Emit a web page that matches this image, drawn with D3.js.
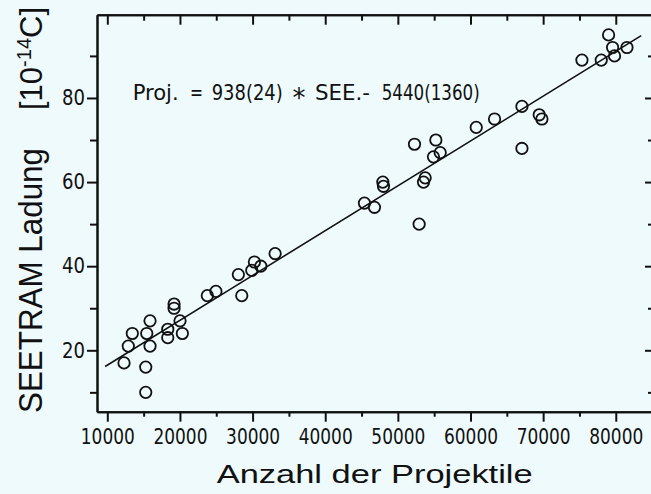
<!DOCTYPE html>
<html>
<head>
<meta charset="utf-8">
<script src="https://cdn.jsdelivr.net/npm/d3@7"></script>
<style>
  html, body { margin: 0; padding: 0; background: #eefafc; }
  svg { display: block; }
  text { fill: #111; }
</style>
</head>
<body>
<svg id="chart" width="651" height="494"></svg>
<script>
// ---- data ----
const projektile = [12300, 12890, 13440, 15290, 15290, 15430, 15880, 15880, 18320, 18320,
  19190, 19190, 20010, 20330, 23770, 24950, 28040, 28510, 29890, 30250,
  31130, 33100, 45400, 46780, 47930, 48020, 52930, 53530, 53760, 52290,
  55230, 54900, 55830, 60790, 63310, 67080, 67080, 69460, 69830, 75340,
  78000, 79010, 79560, 79830, 81540];
const ladung = [17, 21, 24, 16, 10, 24, 27, 21, 25, 23,
  31, 30, 27, 24, 33, 34, 38, 33, 39, 41,
  40, 43, 55, 54, 60, 59, 50, 60, 61, 69,
  70, 66, 67, 73, 75, 78, 68, 76, 75, 89,
  89, 95, 92, 90, 92];
const fitSlope = 938;       // Proj = 938 * SEE - 5440
const fitIntercept = -5440;
const fitRange = [9700, 83500];
const xMajorTicks = [10000, 20000, 30000, 40000, 50000, 60000, 70000, 80000];
const xMinorTicks = [15000, 25000, 35000, 45000, 55000, 65000, 75000, 85000];
const yMajorTicks = [20, 40, 60, 80];
const yMinorTicks = [10, 30, 50, 70, 90];
const equationParts = ["Proj.", "=", "938(24)", "*", "SEE.-", "5440(1360)"];
const xTitle = "Anzahl der Projektile";
const yTitle = "SEETRAM Ladung";
const yUnit = ["[10", "-14", "C]"];

// ---- layout ----
const L = 97, R = 655, T = 14.7, B = 411.7;
const svg = d3.select("#chart");
svg.append("rect").attr("width", 651).attr("height", 494).attr("fill", "#eefafc");

const x = d3.scaleLinear().domain([8580, 85400]).range([L, R]);
const y = d3.scaleLinear().domain([5.4, 99.8]).range([B, T]);

const numFont = "'Liberation Sans Narrow', 'DejaVu Sans Condensed', 'Liberation Sans', sans-serif";
const txtFont = "'Liberation Sans', 'DejaVu Sans', sans-serif";

function styleAxis(g) {
  g.select(".domain").attr("stroke", "#111").attr("stroke-width", 2);
  g.selectAll(".tick line").attr("stroke", "#111").attr("stroke-width", 2);
}

// bottom axis
const gB = svg.append("g").attr("transform", `translate(0,${B})`)
  .call(d3.axisBottom(x).tickValues(xMajorTicks).tickSize(10).tickSizeOuter(0).tickPadding(7).tickFormat(d3.format("d")));
styleAxis(gB);
gB.selectAll("text").attr("font-family", numFont).attr("font-size", 22)
  .attr("fill", "#111").attr("textLength", 54).attr("lengthAdjust", "spacingAndGlyphs");
const gBm = svg.append("g").attr("transform", `translate(0,${B})`)
  .call(d3.axisBottom(x).tickValues(xMinorTicks).tickSize(5).tickSizeOuter(0).tickFormat(""));
styleAxis(gBm);

// top axis (ticks inward)
const gT = svg.append("g").attr("transform", `translate(0,${T})`)
  .call(d3.axisTop(x).tickValues(xMajorTicks).tickSize(-10).tickSizeOuter(0).tickFormat(""));
styleAxis(gT);
const gTm = svg.append("g").attr("transform", `translate(0,${T})`)
  .call(d3.axisTop(x).tickValues(xMinorTicks).tickSize(-6).tickSizeOuter(0).tickFormat(""));
styleAxis(gTm);

// left axis (ticks outward)
const gL = svg.append("g").attr("transform", `translate(${L},0)`)
  .call(d3.axisLeft(y).tickValues(yMajorTicks).tickSize(10).tickSizeOuter(0).tickPadding(2));
styleAxis(gL);
gL.selectAll("text").attr("font-family", numFont).attr("font-size", 21)
  .attr("fill", "#111").attr("textLength", 23).attr("lengthAdjust", "spacingAndGlyphs");
const gLm = svg.append("g").attr("transform", `translate(${L},0)`)
  .call(d3.axisLeft(y).tickValues(yMinorTicks).tickSize(7).tickSizeOuter(0).tickFormat(""));
styleAxis(gLm);

// right axis (ticks inward)
const gR = svg.append("g").attr("transform", `translate(${R},0)`)
  .call(d3.axisRight(y).tickValues(yMajorTicks).tickSize(-10).tickSizeOuter(0).tickFormat(""));
styleAxis(gR);
const gRm = svg.append("g").attr("transform", `translate(${R},0)`)
  .call(d3.axisRight(y).tickValues(yMinorTicks).tickSize(-7).tickSizeOuter(0).tickFormat(""));
styleAxis(gRm);

// fit line
const fitY = p => (p - fitIntercept) / fitSlope;
svg.append("line")
  .attr("x1", x(fitRange[0])).attr("y1", y(fitY(fitRange[0])))
  .attr("x2", x(fitRange[1])).attr("y2", y(fitY(fitRange[1])))
  .attr("stroke", "#111").attr("stroke-width", 1.6);

// points
svg.append("g").selectAll("circle")
  .data(projektile.map((p, i) => [p, ladung[i]]))
  .join("circle")
  .attr("cx", d => x(d[0])).attr("cy", d => y(d[1]))
  .attr("r", 5.7).attr("fill", "none").attr("stroke", "#111").attr("stroke-width", 1.8);

// equation (pieces placed like the plotter lettering)
const eqX = [132.7, 190, 211.7, 299, 315, 381.7];
const eqW = [46, 13, 71, 0, 55, 98];
const eq = svg.append("g");
equationParts.forEach((s, i) => {
  const t = eq.append("text").attr("x", eqX[i])
    .attr("font-family", numFont).text(s);
  if (i === 3) {
    t.attr("y", 107).attr("font-size", 26).attr("text-anchor", "middle")
      .attr("font-family", "'DejaVu Sans', sans-serif");
  } else {
    t.attr("y", 99.5).attr("font-size", 22)
      .attr("textLength", eqW[i]).attr("lengthAdjust", "spacingAndGlyphs");
  }
});

// x title
svg.append("text").attr("x", 216.7).attr("y", 483)
  .attr("font-family", txtFont).attr("font-size", 26)
  .attr("textLength", 316).attr("lengthAdjust", "spacingAndGlyphs")
  .text(xTitle);

// y title
svg.append("text").attr("transform", "translate(41.7,413) rotate(-90)")
  .attr("font-family", txtFont).attr("font-size", 33)
  .attr("textLength", 265).attr("lengthAdjust", "spacingAndGlyphs")
  .text(yTitle);
const u = svg.append("text").attr("transform", "translate(41.7,110) rotate(-90)")
  .attr("font-family", txtFont).attr("font-size", 31);
u.append("tspan").text(yUnit[0]);
u.append("tspan").attr("font-size", 20).attr("dy", -11).text(yUnit[1]);
u.append("tspan").attr("dy", 11).text(yUnit[2]);
</script>
</body>
</html>
